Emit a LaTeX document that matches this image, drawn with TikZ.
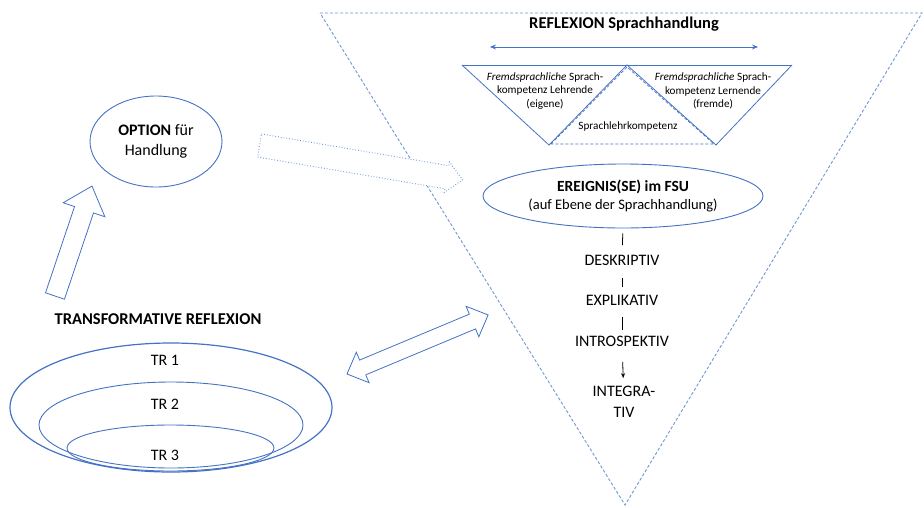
\documentclass[tikz,border=0pt]{standalone}
\usepackage{fontspec}
\setmainfont{Carlito}
\usetikzlibrary{shapes.geometric,arrows.meta}
\definecolor{officeblue}{HTML}{4472C4}
\definecolor{lightblue}{HTML}{6F96D6}

\begin{document}
\begin{tikzpicture}[x=1pt,y=-1pt,
        bigtext/.style={font=\fontsize{16}{20}\selectfont, align=center},
        smalltext/.style={font=\fontsize{11.2}{13.5}\selectfont, align=center},
        stage/.style={font=\fontsize{16}{21}\selectfont, inner sep=0pt, align=center},
        oval/.style={ellipse, draw=officeblue, line width=0.9pt, inner sep=0pt, align=center},
        blockarrow/.style={draw=officeblue, line width=0.8pt, fill=white, line join=miter},
        bar/.style={black, line width=0.8pt}]
        \useasboundingbox (0,0) rectangle (924,507);

        % big dashed triangle
        \draw[lightblue, dashed, dash pattern=on 3pt off 2pt, line width=0.9pt] (320,13) -- (922,13) -- (625,505) -- cycle;

        % reflexion of the Sprachhandlung
        \node[bigtext, font=\fontsize{16.5}{20}\selectfont] (reflexion) at (624,24) {\textbf{REFLEXION Sprachhandlung}};
        \coordinate (rleft) at (490,47);
        \coordinate (rright) at (758,47);
        \draw[officeblue, line width=1pt, {Stealth[length=6pt,width=5pt]}-{Stealth[length=6pt,width=5pt]}] (rleft) -- (rright);

        \draw[officeblue, line width=0.8pt] (462,65) -- (792,65);
        \draw[officeblue, line width=0.8pt] (462,65) -- (549,145) -- (627,65) -- (716,145) -- (792,65);
        \draw[officeblue, line width=0.7pt, dashed, dash pattern=on 3pt off 2pt] (551,144) -- (627,67) -- (714,144) -- cycle;
        \node[smalltext] (lehrende) at (545,91) {\textit{Fremdsprachliche} Sprach-\\kompetenz Lehrende\\(eigene)};
        \node[smalltext] (lernende) at (713,91) {\textit{Fremdsprachliche} Sprach-\\kompetenz Lernende\\(fremde)};
        \node[smalltext] (lehrkomp) at (628,127) {Sprachlehrkompetenz};

        % ereignis and stages
        \node[oval, minimum width=280pt, minimum height=64pt, font=\fontsize{14.5}{18}\selectfont] (ereignis) at (623,196)
            {{\bfseries\fontsize{15.5}{18}\selectfont EREIGNIS(SE) im FSU}\\(auf Ebene der Sprachhandlung)};
        \node[stage] (deskriptiv) at (622,260.5) {DESKRIPTIV};
        \node[stage] (explikativ) at (622,300.5) {EXPLIKATIV};
        \node[stage] (introspektiv) at (622,341.5) {INTROSPEKTIV};
        \node[stage] (integrativ) at (624,402) {INTEGRA-\\TIV};
        \draw[bar, shorten <=5pt, shorten >=10pt] (ereignis.south) -- (deskriptiv.north);
        \draw[bar, shorten <=12pt, shorten >=8pt] (deskriptiv) -- (explikativ);
        \draw[bar, shorten <=11pt, shorten >=6pt] (explikativ) -- (introspektiv);
        \draw[bar, shorten <=15pt, shorten >=8pt, -{Stealth[length=5pt,width=4pt]}] (introspektiv) -- (integrativ);

        % option
        \node[oval, minimum width=132pt, minimum height=91pt, bigtext] (option) at (156,141.5) {\textbf{OPTION} für\\Handlung};

        % transformative reflexion
        \node[bigtext, font=\fontsize{16.5}{20}\selectfont] (transformativ) at (158,319) {\textbf{TRANSFORMATIVE REFLEXION}};
        \node[oval, line width=1.2pt, minimum width=322pt, minimum height=129pt] (tr1) at (171,407.5) {};
        \node[oval, minimum width=264pt, minimum height=86pt] (tr2) at (171,425) {};
        \node[oval, minimum width=207pt, minimum height=46pt] (tr3) at (170.5,448) {};
        \node[bigtext] (labelone) at (165,360) {TR 1};
        \node[bigtext] (labeltwo) at (165,404) {TR 2};
        \node[bigtext] (labelthree) at (165,455) {TR 3};

        % block arrows
        \draw[blockarrow, shift={(55,296)}, rotate=71.4]
            (0,-10) -- (91,-10) -- (91,-22) -- (116,0) -- (91,22) -- (91,10) -- (0,10) -- cycle;
        \draw[blockarrow, draw=lightblue, dotted, line width=0.9pt, shift={(259.5,145.5)}, rotate=-9.6]
            (0,-11.7) -- (190,-11.7) -- (190,-15.5) -- (206,0) -- (190,15.5) -- (190,11.7) -- (0,11.7) -- cycle;
        \draw[blockarrow, shift={(347,374)}, rotate=22.7]
            (0,0) -- (17,16.5) -- (17,8) -- (136,8) -- (136,16.5) -- (153,0) -- (136,-16.5) -- (136,-8) -- (17,-8) -- (17,-16.5) -- cycle;
    \end{tikzpicture}
\end{document}
